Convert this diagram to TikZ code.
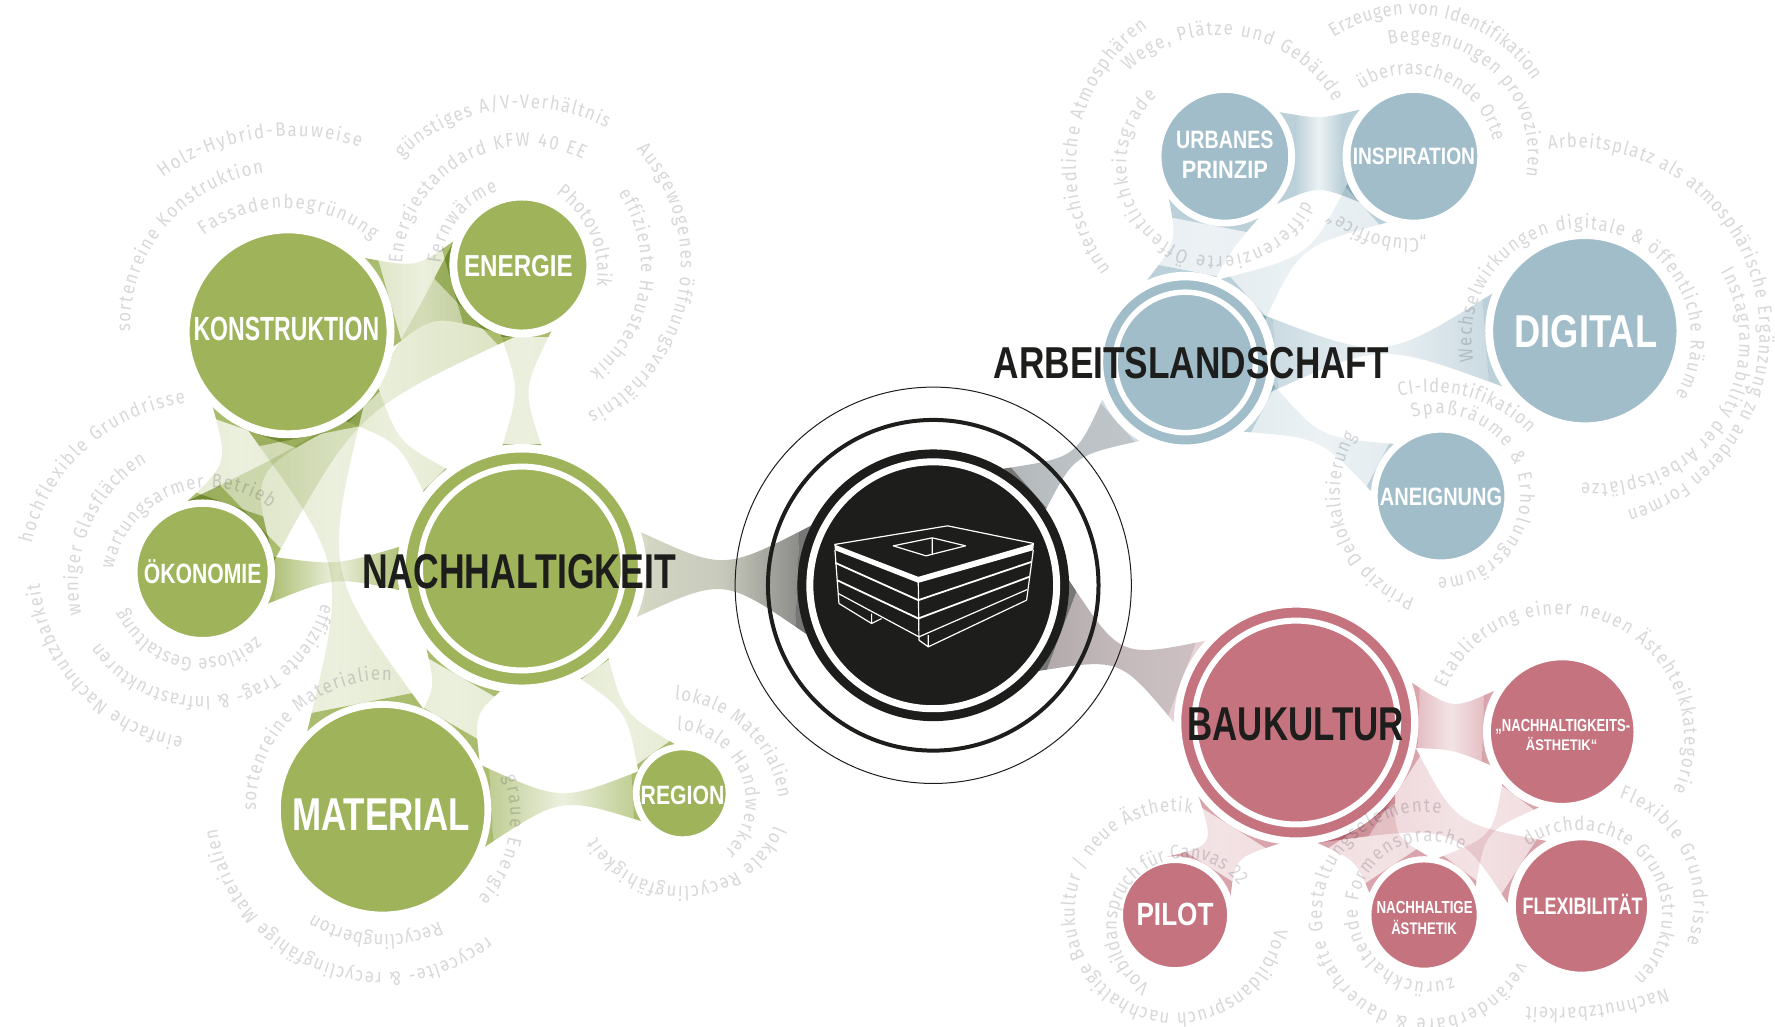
\documentclass[tikz,border=0pt]{standalone}
\usepackage{fontspec}
\usepackage{graphicx}
\usetikzlibrary{calc,decorations.text}
\pgfdeclarelayer{bg}
\pgfsetlayers{bg,main}
\newfontfamily\arcfam[FakeStretch=0.86]{Fira Sans}
\newfontfamily\labfam{Liberation Sans}
\definecolor{ink}{HTML}{1D1D1B}
\definecolor{gr}{HTML}{9EB35A}
\definecolor{bl}{HTML}{A0BDC9}
\definecolor{rd}{HTML}{C5747F}
\definecolor{arcg}{HTML}{D8D8DB}
\colorlet{grA}{gr!88!white}\colorlet{grM}{gr!20!white}\colorlet{grB}{gr!88!white}
\colorlet{blA}{bl!72!white}\colorlet{blM}{bl!20!white}\colorlet{blB}{bl!72!white}
\colorlet{rdA}{rd!65!white}\colorlet{rdM}{rd!20!white}\colorlet{rdB}{rd!65!white}
\definecolor{ghA}{HTML}{D6DAC4}\definecolor{ghM}{HTML}{C8CABD}\definecolor{ghB}{HTML}{777777}
\definecolor{hbA}{HTML}{777777}\definecolor{hbM}{HTML}{BCC2C5}\definecolor{hbB}{HTML}{D2DDE2}
\definecolor{hrA}{HTML}{777777}\definecolor{hrM}{HTML}{C4BABC}\definecolor{hrB}{HTML}{E6D2D6}
\newcommand\arcf{\arcfam\fontsize{19.5}{19.5}\selectfont\color{arcg}}
% filled circle with white halo
\newcommand\cnode[6]{%
  \node[circle,inner sep=0pt,fill=#6,draw=white,line width={(#5-#4)*1.132pt},minimum size={(#4+#5)*1.132pt}] (#1) at (#2,#3) {};}
% label with exact width and cap height
\newcommand\lab[7]{%
  \node[inner sep=0pt,anchor=base,text=#6] (#1) at (#2,{#3+#5/2/1.132})
   {\labfam\bfseries\fontsize{\fpeval{#5/0.716}}{\fpeval{#5/0.716}}\selectfont\resizebox{\fpeval{#4*1.132}pt}{\height}{#7}};}
% text on circle through three baseline points, clockwise
\newcommand\arcT[7]{%
  \edef\dd{\fpeval{2*((#1)*((#4)-(#6))+(#3)*((#6)-(#2))+(#5)*((#2)-(#4)))}}%
  \edef\qa{\fpeval{(#1)*(#1)+(#2)*(#2)}}\edef\qb{\fpeval{(#3)*(#3)+(#4)*(#4)}}\edef\qc{\fpeval{(#5)*(#5)+(#6)*(#6)}}%
  \edef\ux{\fpeval{round((\qa*((#4)-(#6))+\qb*((#6)-(#2))+\qc*((#2)-(#4)))/\dd,3)}}%
  \edef\uy{\fpeval{round((\qa*((#5)-(#3))+\qb*((#1)-(#5))+\qc*((#3)-(#1)))/\dd,3)}}%
  \edef\rr{\fpeval{round(sqrt(((#1)-\ux)^2+((#2)-\uy)^2),3)}}%
  \edef\ao{\fpeval{round(atand((#2)-\uy,(#1)-\ux),3)}}%
  \edef\at{\fpeval{round(atand((#6)-\uy,(#5)-\ux),3)}}%
  \edef\at{\fpeval{\at<\ao ? \at+360 : \at}}%
  \path[decorate,decoration={text along path,text align={fit to path},text={|\arcf|#7}}]
    plot[domain=\ao:\at,samples=70,variable=\t] ({\ux+\rr*cos(\t)},{\uy+\rr*sin(\t)});}
% concave bridge between two nodes
\newcommand\bridge[9]{%
 \begin{pgfonlayer}{bg}\begin{scope}
  \path let \p1=($(#4)-(#1)$),\n1={atan2(\y1,\x1)} in \pgfextra{\xdef\bang{\n1}};
  \pgfmathsetmacro\bangb{\bang+180}
  \coordinate (P) at (#1.\bang); \coordinate (Q) at (#4.\bangb);
  \coordinate (Mid) at ($(P)!.5!(Q)$);
  \path let \p1=($(Q)-(P)$),\n1={veclen(\x1,\y1)/2} in \pgfextra{\xdef\LL{\n1}};
  \coordinate (A1) at (#1.#2); \coordinate (A2) at (#1.#3);
  \coordinate (B1) at (#4.#5); \coordinate (B2) at (#4.#6);
  \coordinate (M1) at ($(A1)!.5!(B1)$); \coordinate (M2) at ($(A2)!.5!(B2)$);
  \coordinate (Mm) at ($(M1)!.5!(M2)$);
  \coordinate (C1) at ($(M1)!#7!(Mm)$); \coordinate (C2) at ($(M2)!#8!(Mm)$);
  \clip (A1) .. controls (C1) .. (B1) -- (B2) .. controls (C2) .. (A2) -- cycle;
  \begin{scope}[shift={(Mid)},rotate=\bang]
   \shade[blend mode=multiply,left color=#9A,right color=#9B,middle color=#9M] (-\LL,-700pt) rectangle (\LL,700pt);
   \fill[blend mode=multiply,#9A] (-900pt,-700pt) rectangle (-\LL,700pt);
   \fill[blend mode=multiply,#9B] (\LL,-700pt) rectangle (900pt,700pt);
  \end{scope}
 \end{scope}\end{pgfonlayer}}
\begin{document}
\begin{tikzpicture}[x=1.13202pt,y=-1.1325pt]
\useasboundingbox (0,0) rectangle (1568,906);
% nodes
\cnode{kons}{254.5}{293}{87}{94}{gr}
\cnode{energ}{461}{234}{57}{64}{gr}
\cnode{oeko}{179}{505}{57.5}{64}{gr}
\cnode{nach}{461}{502}{102.5}{110}{gr}
\cnode{mat}{338}{715}{90}{96}{gr}
\cnode{region}{603}{700.5}{38}{44}{gr}
\cnode{urb}{1082}{138}{56}{62}{bl}
\cnode{insp}{1249}{138}{56}{63}{bl}
\cnode{arb}{1047}{320}{72.5}{80}{bl}
\cnode{dig}{1400}{292}{81}{88}{bl}
\cnode{anei}{1273}{438}{56}{62}{bl}
\cnode{bau}{1145}{638}{101.5}{108}{rd}
\cnode{nae}{1380}{646}{63}{70}{rd}
\cnode{flex}{1397}{800}{58}{65}{rd}
\cnode{naest}{1258}{808}{46.5}{52}{rd}
\cnode{pilot}{1038}{808}{46}{52}{rd}
\node[circle,inner sep=0pt,fill=ink,minimum size={240*1.132pt}] (hub) at (824.4,516.8) {};
% rings
\draw[white,line width=6pt] (nach) circle[radius=90];
\draw[white,line width=5.5pt] (arb) circle[radius=62];
\draw[white,line width=6pt] (bau) circle[radius=90];
\draw[white,line width=7pt] (hub) circle[radius=109];
\draw[ink,line width=4pt] (hub) circle[radius=146];
\draw[ink,line width=1pt] (hub) circle[radius=175];
% bridges
\bridge{kons}{44}{352}{energ}{161}{247}{.4}{.54}{gr}
\bridge{oeko}{102}{9}{energ}{162}{264}{1.15}{1}{gr}
\bridge{kons}{225}{304}{oeko}{102}{9}{.5}{1.1}{gr}
\bridge{kons}{248}{315}{mat}{134}{68}{1.2}{1.2}{gr}
\bridge{kons}{303}{328}{nach}{142}{127}{1}{1}{gr}
\bridge{energ}{253}{294}{nach}{99}{81}{.8}{1.05}{gr}
\bridge{oeko}{12}{334}{nach}{170}{190}{.6}{.9}{gr}
\bridge{nach}{220}{260}{mat}{68}{27}{.3}{.47}{gr}
\bridge{nach}{298}{314}{region}{153}{99}{1.1}{1.1}{gr}
\bridge{mat}{24}{340}{region}{154}{214}{1}{1.15}{gr}
\bridge{nach}{17}{337}{hub}{154}{201}{.86}{1}{gh}
\bridge{hub}{59}{34}{arb}{204}{240}{1.15}{.95}{hb}
\bridge{hub}{2}{321}{bau}{138}{180}{1.1}{.9}{hr}
\bridge{urb}{39}{317}{insp}{139}{220}{.18}{.38}{bl}
\bridge{urb}{217}{299}{arb}{115}{70}{.48}{.1}{bl}
\bridge{insp}{202}{248}{arb}{67}{28}{1.25}{1.25}{bl}
\bridge{arb}{32}{341}{dig}{158}{214}{1.35}{1.1}{bl}
\bridge{arb}{346}{310}{anei}{132}{176}{1}{1}{bl}
\bridge{bau}{19}{348}{nae}{149}{205}{.65}{.2}{rd}
\bridge{bau}{348}{280}{flex}{118}{178}{.75}{1.25}{rd}
\bridge{bau}{280}{324}{naest}{158}{86}{.36}{.5}{rd}
\bridge{bau}{217}{262}{pilot}{98}{19}{.87}{.55}{rd}
\bridge{nae}{221}{253}{naest}{76}{29}{1.2}{1.2}{rd}
% building (coordinates of the 3x crop)
\begin{scope}[shift={(636,335.7)},x=0.3333pt,y=-0.3333pt,white,line width=1.2pt,line join=round]
 \draw (343,493) -- (683,437) -- (942,490);
 \fill (343,493) -- (595,590) -- (942,490) -- (940,510) -- (595,608) -- (345,510) -- cycle;
 \draw (520,497) -- (637,473) -- (737,497) -- (618,527) -- cycle (637,473) -- (637,525);
 \draw (345,510) -- (357,670) (595,600) -- (597,780) (940,510) -- (920,660);
 \draw[line width=1.8pt] (346,548) -- (595,660) -- (935,545);
 \draw[line width=1.8pt] (351,600) -- (595,715) -- (928,590);
 \draw (355,640) -- (597,770) -- (922,628);
 \draw (357,670) -- (455,730) -- (485,715) (455,700) -- (455,730);
 \draw (597,780) -- (625,800) -- (920,660) (625,765) -- (625,800);
\end{scope}
% curved texts
\begin{scope}[blend mode=multiply]
\arcT{144}{157}{231}{122}{318}{130}{Holz-Hybrid-Bauweise}
\arcT{115}{293}{148}{199}{233}{153}{sortenreine Konstruktion}
\arcT{180}{208}{255}{184}{329}{212}{Fassadenbegrünung}
\arcT{355}{140}{442}{97}{536}{113}{günstiges A/V-Verhältnis}
\arcT{355}{233}{422}{138}{515}{141}{Energiestandard KFW 40 EE}
\arcT{389}{233}{410}{188}{440}{169}{Fernwärme}
\arcT{491}{171}{519}{203}{527}{253}{Photovoltaik}
\arcT{546}{171}{566}{244}{521}{328}{effiziente Haustechnik}
\arcT{562}{132}{600}{253}{519}{365}{Ausgewogenes öffnungsverhältnis}
\arcT{28}{480}{75}{398}{164}{356}{hochflexible Grundrisse}
\arcT{72}{543}{82}{460}{130}{408}{weniger Glasflächen}
\arcT{100}{503}{160}{435}{239}{449}{wartungsarmer Betrieb}
\arcT{226}{562}{171}{581}{111}{537}{zeitlose Gestaltung}
\arcT{284}{533}{185}{615}{88}{567}{effiziente Trag- {\&} Infrastrukturen}
\arcT{162}{651}{65}{592}{35}{515}{einfache Nachnutzbarkeit}
\arcT{226}{716}{261}{632}{346}{601}{sortenreine Materialien}
\arcT{445}{686}{449}{740}{422}{793}{graue Energie}
\arcT{388}{814}{333}{825}{277}{807}{Recyclingberton}
\arcT{430}{827}{289}{850}{192}{732}{recycelte- {\&} recyclingfähige Materialien}
\arcT{596}{618}{668}{657}{688}{705}{lokale Materialien}
\arcT{598}{645}{651}{677}{640}{752}{lokale Handwerker}
\arcT{684}{729}{601}{783}{527}{739}{lokale Recyclingfähigkeit}
\arcT{981}{238}{952}{126}{1014}{24}{unterschiedliche Atmosphären}
\arcT{997}{63}{1093}{32}{1178}{90}{Wege, Plätze und Gebäude}
\arcT{1151}{177}{1018}{202}{1022}{85}{differenzierte Öffentlichkeitsgrade}
\arcT{1178}{33}{1275}{16}{1354}{71}{Erzeugen von Identifikation}
\arcT{1227}{39}{1329}{76}{1348}{156}{Begegnungen provozieren}
\arcT{1203}{79}{1275}{72}{1319}{125}{überraschende Orte}
\arcT{1260}{210}{1222}{208}{1178}{186}{„Cluboffice“}
\arcT{1368}{132}{1553}{315}{1437}{451}{Arbeitsplatz als atmosphärische Ergänzung zu anderen Formen}
\arcT{1520}{240}{1528}{347}{1397}{426}{Instagramability der Arbeitsplätze}
\arcT{1302}{319}{1399}{202}{1480}{349}{Wechselwirkungen digitale {\&} öffentliche Räume}
\arcT{1236}{350}{1304}{353}{1350}{383}{CI-Identifikation}
\arcT{1248}{369}{1343}{440}{1270}{510}{Spaßräume {\&} Erholungsräume}
\arcT{1250}{528}{1192}{475}{1198}{385}{Prinzip Delokalisierung}
\arcT{1277}{608}{1391}{543}{1478}{698}{Etablierung einer neuen Ästehteikkategorie}
\arcT{1430}{704}{1486}{754}{1490}{833}{Flexible Grundrisse}
\arcT{1350}{748}{1453}{762}{1443}{863}{durchdachte Grundstrukturen}
\arcT{1472}{873}{1408}{888}{1348}{889}{Nachnutzbarkeit}
\arcT{1341}{849}{1169}{824}{1273}{718}{veränderbare {\&} dauerhafte Gestaltungselemente}
\arcT{1283}{863}{1200}{795}{1292}{751}{zurückhaltende Formensprache}
\arcT{1126}{820}{950}{795}{1053}{718}{Vorbildanspruch nachhaltige Baukultur / neue Ästhetik}
\arcT{1016}{870}{987}{810}{1095}{782}{Vorbildanspruch für Canvas 22}
\end{scope}
% labels
\lab{lnach}{458.5}{504}{277}{35}{ink}{NACHHALTIGKEIT}
\lab{larb}{1052.5}{320}{349}{32}{ink}{ARBEITSLANDSCHAFT}
\lab{lbau}{1144.5}{638.7}{191}{34}{ink}{BAUKULTUR}
\lab{lkons}{253}{290.4}{164}{24}{white}{KONSTRUKTION}
\lab{lenerg}{458}{234.7}{96}{21.7}{white}{ENERGIE}
\lab{loeko}{179}{506}{104}{20}{white}{ÖKONOMIE}
\lab{lmat}{336.5}{718.5}{157}{33}{white}{MATERIAL}
\lab{lregion}{603}{702}{74}{19}{white}{REGION}
\lab{lurb}{1082}{123}{86}{18}{white}{URBANES}
\lab{lprin}{1082}{150}{76}{18}{white}{PRINZIP}
\lab{linsp}{1249}{138}{108}{17}{white}{INSPIRATION}
\lab{ldig}{1401}{292}{126}{33}{white}{DIGITAL}
\lab{lanei}{1273}{438}{108}{18}{white}{ANEIGNUNG}
\lab{lnae}{1380.5}{640}{119}{12.5}{white}{„NACHHALTIGKEITS-}
\lab{lnaeb}{1379.5}{658}{63}{11}{white}{ÄSTHETIK“}
\lab{lpilot}{1038}{807}{68}{23}{white}{PILOT}
\lab{lnaest}{1258.5}{801}{85}{12.5}{white}{NACHHALTIGE}
\lab{lnaestb}{1258}{820}{58}{12}{white}{ÄSTHETIK}
\lab{lflex}{1398}{800}{106}{17}{white}{FLEXIBILITÄT}
\end{tikzpicture}
\end{document}
